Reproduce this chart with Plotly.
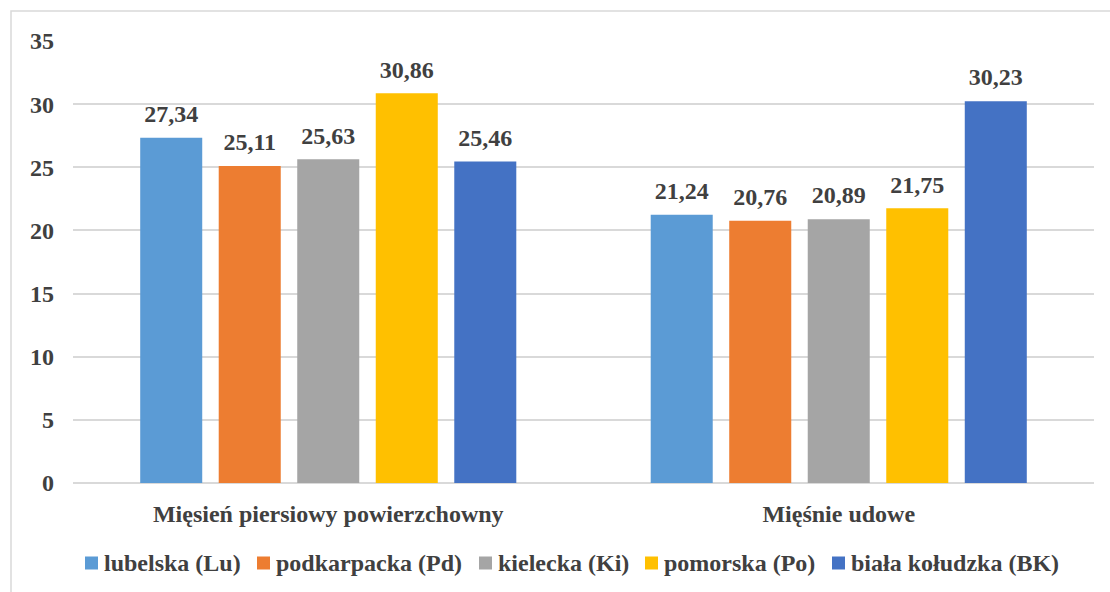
import plotly.graph_objects as go

# Muscle groups on the x axis
categories = ["Mięsień piersiowy powierzchowny", "Mięśnie udowe"]

# Breeds (series) and their values for each muscle group
breeds = ["lubelska (Lu)", "podkarpacka (Pd)", "kielecka (Ki)", "pomorska (Po)", "biała kołudzka (BK)"]
lubelska = [27.34, 21.24]
podkarpacka = [25.11, 20.76]
kielecka = [25.63, 20.89]
pomorska = [30.86, 21.75]
biala_koludzka = [25.46, 30.23]

series = [lubelska, podkarpacka, kielecka, pomorska, biala_koludzka]
colors = ["#5B9BD5", "#ED7D31", "#A5A5A5", "#FFC000", "#4472C4"]

y_ticks = [0, 5, 10, 15, 20, 25, 30, 35]

text_color = "#404040"
font_family = "Liberation Serif"
FS = 24
GAP = 0.231

# Page geometry (px)
W, H = 1110, 592
M_L, M_R, M_T, M_B = 73, 16, 41, 109
PLOT_W = W - M_L - M_R
PLOT_H = H - M_T - M_B


def px_x(px):
    return (px - M_L) / PLOT_W


def px_y(py):
    return (H - M_B - py) / PLOT_H


fnt = dict(family=font_family, size=FS, color=text_color, weight="bold")

fig = go.Figure()
for name, vals, col in zip(breeds, series, colors):
    fig.add_trace(go.Bar(
        name=name,
        x=categories,
        y=vals,
        marker=dict(color=col, line=dict(width=0)),
        showlegend=False,
        hoverinfo="skip",
    ))

# Value labels above each bar (grouped scatter so they sit over their bar)
for name, vals in zip(breeds, series):
    fig.add_trace(go.Scatter(
        x=categories,
        y=vals,
        mode="markers+text",
        text=[f"{v:.2f}".replace(".", ",") for v in vals],
        textposition="top center",
        textfont=fnt,
        marker=dict(size=14, opacity=0),
        cliponaxis=False,
        showlegend=False,
        hoverinfo="skip",
    ))

# Legend row below the chart: colour square followed by the breed name
legend_swatch_px = [85, 257, 479, 645, 832]
legend_text_px = [103, 275, 497, 663, 850]
legend_mid_py = 563
swatch = 13

shapes = [dict(
    type="rect", xref="paper", yref="paper",
    x0=px_x(11), x1=1.05, y0=-0.35, y1=px_y(11),
    line=dict(color="#D9D9D9", width=1.5),
    fillcolor="rgba(0,0,0,0)",
    layer="below",
)]
annotations = []
for name, col, sx, tx in zip(breeds, colors, legend_swatch_px, legend_text_px):
    shapes.append(dict(
        type="rect", xref="paper", yref="paper",
        x0=px_x(sx), x1=px_x(sx + swatch),
        y0=px_y(legend_mid_py + swatch / 2), y1=px_y(legend_mid_py - swatch / 2),
        line=dict(width=0), fillcolor=col,
    ))
    annotations.append(dict(
        xref="paper", yref="paper", x=px_x(tx), y=px_y(legend_mid_py),
        xanchor="left", yanchor="middle", text=name, showarrow=False,
        font=fnt, borderpad=0,
    ))

fig.update_layout(
    width=W,
    height=H,
    barmode="group",
    bargap=GAP,
    bargroupgap=0.21,
    scattermode="group",
    scattergap=GAP,
    paper_bgcolor="white",
    plot_bgcolor="white",
    margin=dict(l=M_L, r=M_R, t=M_T, b=M_B),
    font=fnt,
    showlegend=False,
    xaxis=dict(
        showgrid=False,
        showline=False,
        ticks="",
        ticklabelstandoff=14,
        tickfont=fnt,
    ),
    yaxis=dict(
        range=[0, 35],
        tickvals=y_ticks,
        showgrid=True,
        gridcolor="#D9D9D9",
        gridwidth=1.5,
        zeroline=True,
        zerolinecolor="#D9D9D9",
        zerolinewidth=1.5,
        showline=False,
        ticks="",
        ticklabelstandoff=18,
        tickfont=fnt,
    ),
    shapes=shapes,
    annotations=annotations,
)

fig.write_html("out.html")
